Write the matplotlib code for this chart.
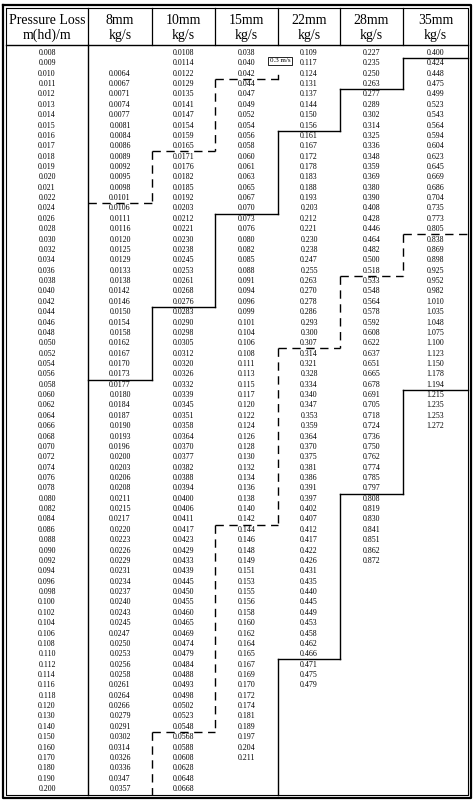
import matplotlib
matplotlib.use("Agg")
import matplotlib.pyplot as plt

pressure = (["0.%03d" % v for v in range(8, 23)] +
            ["0.%03d" % v for v in range(24, 121, 2)] +
            ["0.%03d" % v for v in range(130, 201, 10)])

mm8 = [None, None, "0.0064","0.0067","0.0071","0.0074","0.0077","0.0081","0.0084","0.0086","0.0089","0.0092","0.0095","0.0098","0.0101",
       "0.0106","0.0111","0.0116","0.0120","0.0125","0.0129","0.0133","0.0138","0.0142","0.0146","0.0150","0.0154","0.0158","0.0162","0.0167",
       "0.0170","0.0173","0.0177","0.0180","0.0184","0.0187","0.0190","0.0193","0.0196","0.0200","0.0203","0.0206","0.0208","0.0211","0.0215",
       "0.0217","0.0220","0.0223","0.0226","0.0229","0.0231","0.0234","0.0237","0.0240","0.0243","0.0245","0.0247","0.0250","0.0253","0.0256",
       "0.0258","0.0261","0.0264","0.0266","0.0279","0.0291","0.0302","0.0314","0.0326","0.0336","0.0347","0.0357"]
mm10 = ["0.0108","0.0114","0.0122","0.0129","0.0135","0.0141","0.0147","0.0154","0.0159","0.0165","0.0171","0.0176","0.0182","0.0185","0.0192",
        "0.0203","0.0212","0.0221","0.0230","0.0238","0.0245","0.0253","0.0261","0.0268","0.0276","0.0283","0.0290","0.0298","0.0305","0.0312",
        "0.0320","0.0326","0.0332","0.0339","0.0345","0.0351","0.0358","0.0364","0.0370","0.0377","0.0382","0.0388","0.0394","0.0400","0.0406",
        "0.0411","0.0417","0.0423","0.0429","0.0433","0.0439","0.0445","0.0450","0.0455","0.0460","0.0465","0.0469","0.0474","0.0479","0.0484",
        "0.0488","0.0493","0.0498","0.0502","0.0523","0.0548","0.0568","0.0588","0.0608","0.0628","0.0648","0.0668"]
mm15 = ["0.038","0.040","0.042","0.044","0.047","0.049","0.052","0.054","0.056","0.058","0.060","0.061","0.063","0.065","0.067",
        "0.070","0.073","0.076","0.080","0.082","0.085","0.088","0.091","0.094","0.096","0.099","0.101","0.104","0.106","0.108",
        "0.111","0.113","0.115","0.117","0.120","0.122","0.124","0.126","0.128","0.130","0.132","0.134","0.136","0.138","0.140",
        "0.142","0.144","0.146","0.148","0.149","0.151","0.153","0.155","0.156","0.158","0.160","0.162","0.164","0.165","0.167",
        "0.169","0.170","0.172","0.174","0.181","0.189","0.197","0.204","0.211"]
mm22 = ["0.109","0.117","0.124","0.131","0.137","0.144","0.150","0.156","0.161","0.167","0.172","0.178","0.183","0.188","0.193",
        "0.203","0.212","0.221","0.230","0.238","0.247","0.255","0.263","0.270","0.278","0.286","0.293","0.300","0.307","0.314",
        "0.321","0.328","0.334","0.340","0.347","0.353","0.359","0.364","0.370","0.375","0.381","0.386","0.391","0.397","0.402",
        "0.407","0.412","0.417","0.422","0.426","0.431","0.435","0.440","0.445","0.449","0.453","0.458","0.462","0.466","0.471",
        "0.475","0.479"]
mm28 = ["0.227","0.235","0.250","0.263","0.277","0.289","0.302","0.314","0.325","0.336","0.348","0.359","0.369","0.380","0.390",
        "0.408","0.428","0.446","0.464","0.482","0.500","0.518","0.533","0.548","0.564","0.578","0.592","0.608","0.622","0.637",
        "0.651","0.665","0.678","0.691","0.705","0.718","0.724","0.736","0.750","0.762","0.774","0.785","0.797","0.808","0.819",
        "0.830","0.841","0.851","0.862","0.872"]
mm35 = ["0.400","0.424","0.448","0.475","0.499","0.523","0.543","0.564","0.594","0.604","0.623","0.645","0.669","0.686","0.704",
        "0.735","0.773","0.805","0.838","0.869","0.898","0.925","0.952","0.982","1.010","1.035","1.048","1.075","1.100","1.123",
        "1.150","1.178","1.194","1.215","1.235","1.253","1.272"]

headers = [("Pressure Loss", "m(hd)/m"), ("8mm", "kg/s"), ("10mm", "kg/s"), ("15mm", "kg/s"),
           ("22mm", "kg/s"), ("28mm", "kg/s"), ("35mm", "kg/s")]
columns = [pressure, mm8, mm10, mm15, mm22, mm28, mm35]

# velocity boundary lines: (column index, last pressure row above the line)
dashed_1 = [(1, "0.022"), (2, "0.017"), (3, "0.010")]
solid_1 = [(1, "0.056"), (2, "0.042"), (3, "0.024"), (4, "0.015"), (5, "0.011"), (6, "0.008")]
dashed_2 = [(2, "0.140"), (3, "0.084"), (4, "0.050"), (5, "0.036"), (6, "0.028")]
solid_2 = [(4, "0.110"), (5, "0.078"), (6, "0.058")]

edges = [6, 88, 152, 215, 278, 340, 403, 468]
y0, dy = 53.0, (789.0 - 53.0) / 71
top, hdr, bottom = 8, 45, 795

fig = plt.figure(figsize=(4.73, 8.0), dpi=100)
ax = fig.add_axes([0, 0, 1, 1])
ax.set_xlim(0, 473)
ax.set_ylim(800, 0)
ax.axis("off")
serif = ["Liberation Serif", "DejaVu Serif"]

def ry(i):
    return y0 + i * dy

# borders
ax.plot([3, 471, 471, 3, 3], [5, 5, 798, 798, 5], color="black", lw=1.6)
ax.plot([6, 468, 468, 6, 6], [top, top, bottom, bottom, top], color="black", lw=0.8)
ax.plot([6, 468], [hdr, hdr], color="black", lw=1.0)
for x in edges[1:-1]:
    ax.plot([x, x], [top, hdr], color="black", lw=0.9)
ax.plot([88, 88], [hdr, bottom], color="black", lw=1.0)

for c, (h1, h2) in enumerate(headers):
    xc = (edges[c] + edges[c + 1]) / 2
    ax.text(xc, 20, h1, ha="center", va="center", fontsize=10, family=serif)
    ax.text(xc, 35, h2, ha="center", va="center", fontsize=10, family=serif)
    col = columns[c]
    for i, v in enumerate(col):
        if v:
            ax.text(xc, ry(i), v, ha="center", va="center", fontsize=5.7, family=serif)

def draw_step(steps, ls, to_bottom=True):
    pts = []
    for k, (c, lab) in enumerate(steps):
        yb = ry(pressure.index(lab) + 0.5)
        pts.append((c, yb))
    for k, (c, yb) in enumerate(pts):
        ax.plot([edges[c], edges[c + 1]], [yb, yb], color="black", lw=1.0, linestyle=ls)
        if k + 1 < len(pts):
            ax.plot([edges[c + 1]] * 2, [pts[k + 1][1], yb], color="black", lw=1.0, linestyle=ls)
    c0, y_first = pts[0]
    if to_bottom and c0 > 1:
        ax.plot([edges[c0]] * 2, [y_first, bottom], color="black", lw=1.0, linestyle=ls)

dash = (0, (6, 4))
draw_step(dashed_1, dash)
draw_step(solid_1, "-")
draw_step(dashed_2, dash)
draw_step(solid_2, "-")

# 0.3 m/s marker
yb = ry(pressure.index("0.010") + 0.5)
ax.plot([278, 278], [yb, yb - 4], color="black", lw=1.0)
ax.text(280, 61, "0.3 m/s", ha="center", va="center", fontsize=5, family=serif,
        bbox=dict(boxstyle="square,pad=0.25", fc="white", ec="black", lw=0.6))

fig.savefig("out.png", dpi=100)
